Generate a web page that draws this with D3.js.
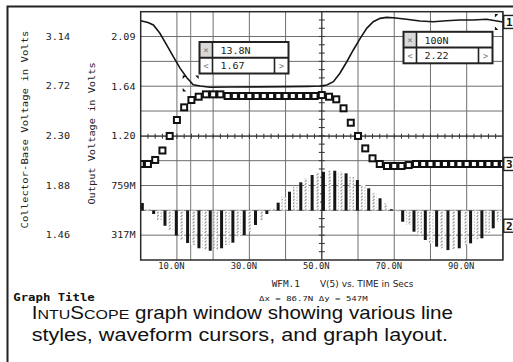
<!DOCTYPE html>
<html><head><meta charset="utf-8">
<script src="https://cdn.jsdelivr.net/npm/d3@7"></script>
<style>
html,body{margin:0;padding:0;background:#fff;}
svg{display:block;}
</style></head><body>
<svg id="chart" width="513" height="362"></svg>
<script>
// ---------------- data ----------------
const xTickValues = [10, 30, 50, 70, 90];
const xTickLabels = ["10.0N", "30.0N", "50.0N", "70.0N", "90.0N"];
const xGridValues = [10, 20, 30, 40, 50, 60, 70, 80, 90];
const outTickValues = [2.09, 1.64, 1.20, 0.759, 0.317];
const outTickLabels = ["2.09", "1.64", "1.20", "759M", "317M"];
const cbTickValues = [3.14, 2.72, 2.30, 1.88, 1.46];
const cbTickLabels = ["3.14", "2.72", "2.30", "1.88", "1.46"];

// trace 1: output voltage (solid line)
const trace1Time = [0, 2, 3.5, 5.3, 7.2, 9.0, 10.9, 12.7, 14.5, 16.4, 19.1, 25, 32, 40, 46, 49.5, 51.4, 53.2, 55.0, 56.9, 58.7, 60.6, 62.4, 64.2, 66.1, 67.9, 69.7, 73.4, 77.1, 80.8, 84.4, 88.1, 91.8, 95.5, 100];
const trace1Volts = [2.231, 2.215, 2.193, 2.119, 2.014, 1.910, 1.806, 1.725, 1.660, 1.648, 1.637, 1.640, 1.641, 1.643, 1.645, 1.648, 1.657, 1.687, 1.762, 1.865, 1.970, 2.074, 2.163, 2.222, 2.252, 2.261, 2.258, 2.244, 2.228, 2.222, 2.231, 2.237, 2.237, 2.244, 2.22];

// trace 3: collector-base voltage (square markers)
const trace3Time = [0, 2, 4, 6, 8, 10, 12, 14, 16, 18, 20, 22, 24, 26, 28, 30, 32, 34, 36, 38, 40, 42, 44, 46, 48, 50, 52, 54, 56, 58, 60, 62, 64, 66, 68, 70, 72, 74, 76, 78, 80, 82, 84, 86, 88, 90, 92, 94, 96, 98, 100];
const trace3Volts = [2.062, 2.062, 2.096, 2.176, 2.299, 2.434, 2.541, 2.603, 2.631, 2.651, 2.651, 2.651,
  2.637, 2.637, 2.637, 2.637, 2.637, 2.637, 2.637, 2.637, 2.637, 2.637, 2.637, 2.637, 2.637,
  2.645, 2.631, 2.609, 2.533, 2.411, 2.299, 2.194, 2.110, 2.062, 2.045, 2.045, 2.045, 2.053,
  2.062, 2.062, 2.062, 2.062, 2.062, 2.062, 2.062, 2.062, 2.062, 2.062, 2.062, 2.062, 2.062];

// trace 2: bar style, solid samples and hatched samples
const trace2Baseline = 0.537;
const trace2TimeA = [0.45, 3.58, 6.7, 9.83, 12.95, 16.08, 19.2, 22.33, 25.45, 28.58, 31.7, 34.83, 37.95, 41.08, 44.2, 47.33, 50.45, 53.58, 56.7, 59.83, 62.95, 66.08, 69.2, 72.33, 75.45, 78.58, 81.7, 84.83, 87.95, 91.08, 94.2, 97.33];
const trace2VoltsA = [0.604, 0.506, 0.401, 0.314, 0.247, 0.200, 0.178, 0.200, 0.250, 0.318, 0.408, 0.506, 0.607, 0.705, 0.789, 0.854, 0.883, 0.892, 0.869, 0.809, 0.735, 0.646, 0.548, 0.437, 0.348, 0.274, 0.214, 0.184, 0.200, 0.244, 0.289, 0.378];
const trace2TimeB = [2.01, 5.14, 8.26, 11.39, 14.51, 17.64, 20.76, 23.89, 27.01, 30.14, 33.26, 36.39, 39.51, 42.64, 45.76, 48.89, 52.01, 55.14, 58.26, 61.39, 64.51, 67.64, 70.76, 73.89, 77.01, 80.14, 83.26, 86.39, 89.51, 92.64, 95.76, 98.89];
const trace2VoltsB = [0.550, 0.452, 0.358, 0.274, 0.229, 0.184, 0.184, 0.229, 0.300, 0.348, 0.452, 0.555, 0.660, 0.749, 0.824, 0.878, 0.892, 0.883, 0.839, 0.765, 0.690, 0.601, 0.524, 0.408, 0.318, 0.244, 0.200, 0.191, 0.229, 0.280, 0.333, 0.437];

// cursors
const cursorTimes = [13.8, 100];
const cursorValues = [1.67, 2.22];
const cursorTimeLabels = ["13.8N", "100N"];
const cursorValueLabels = ["1.67", "2.22"];

// axis crosshair
const crossTime = 50;
const crossVolts = 1.20;

// texts
const yTitleCB = "Collector-Base Voltage in Volts";
const yTitleOut = "Output Voltage in Volts";
const xTitleA = "WFM.1";
const xTitleB = "V(5) vs. TIME in Secs";
const deltaText = "\u0394x = 86.7N \u0394y = 547M";
const graphTitle = "Graph Title";

// ---------------- layout ----------------
const svg = d3.select("#chart");
const plot = {left: 140.7, right: 502.9, top: 11.7, bottom: 260};
const gridStep = (plot.bottom - plot.top) / 10;
const x = d3.scaleLinear().domain([0, 100]).range([plot.left, plot.right]);
const yOut = d3.scaleLinear().domain([0.317, 2.09]).range([plot.top + 9 * gridStep, plot.top + gridStep]);
const yCB = d3.scaleLinear().domain([1.46, 3.14]).range([plot.top + 9 * gridStep, plot.top + gridStep]);

const MONO = "'DejaVu Sans Mono', 'Liberation Mono', monospace";
const SANS = "'DejaVu Sans', sans-serif";
const CAP = "'Liberation Sans', Arial, Helvetica, sans-serif";

function addText(parent, str, o) {
  let tr = `translate(${o.x},${o.y})`;
  if (o.rotate) tr += ` rotate(${o.rotate})`;
  tr += ` scale(${o.sx || 1},1)`;
  return parent.append("text")
    .attr("transform", tr)
    .attr("text-anchor", o.anchor || "start")
    .attr("font-family", o.family || MONO)
    .attr("font-size", o.size || 8.3)
    .attr("font-weight", o.weight || "normal")
    .attr("fill", o.fill || "#222")
    .text(str);
}

svg.append("rect").attr("width", 513).attr("height", 362).attr("fill", "#fff");

const defs = svg.append("defs");
defs.append("clipPath").attr("id", "plotClip").append("rect")
  .attr("x", plot.left).attr("y", plot.top)
  .attr("width", plot.right - plot.left).attr("height", plot.bottom - plot.top);
const pat = defs.append("pattern").attr("id", "hatch")
  .attr("patternUnits", "userSpaceOnUse").attr("width", 4).attr("height", 3.2);
pat.append("rect").attr("width", 4).attr("height", 3.2).attr("fill", "#fff");
pat.append("path").attr("d", "M0.6,2.6 L2.6,0.6").attr("stroke", "#8a8a8a").attr("stroke-width", 1);

// plot background
svg.append("rect").attr("x", plot.left).attr("y", plot.top)
  .attr("width", plot.right - plot.left).attr("height", plot.bottom - plot.top).attr("fill", "#fff");

// grid
const grid = svg.append("g").attr("stroke", "#6e6e6e").attr("stroke-width", 1);
grid.selectAll("line.v").data(xGridValues).join("line")
  .attr("x1", d => x(d)).attr("x2", d => x(d)).attr("y1", plot.top).attr("y2", plot.bottom);
grid.selectAll("line.h").data(d3.range(1, 10)).join("line")
  .attr("x1", plot.left).attr("x2", plot.right)
  .attr("y1", d => plot.top + d * gridStep).attr("y2", d => plot.top + d * gridStep);

// cursor vertical lines
svg.append("g").selectAll("line").data(cursorTimes).join("line")
  .attr("x1", d => x(d)).attr("x2", d => x(d)).attr("y1", plot.top).attr("y2", plot.bottom)
  .attr("stroke", "#777").attr("stroke-width", 1);

// ticked crosshair
const cross = svg.append("g").attr("stroke", "#333").attr("stroke-width", 1).attr("clip-path", "url(#plotClip)");
cross.append("line").attr("x1", plot.left).attr("x2", plot.right).attr("y1", yOut(crossVolts)).attr("y2", yOut(crossVolts));
cross.append("line").attr("x1", x(crossTime)).attr("x2", x(crossTime)).attr("y1", plot.top).attr("y2", plot.bottom);
cross.selectAll("line.th").data(d3.range(2, 100, 2)).join("line")
  .attr("x1", d => x(d)).attr("x2", d => x(d))
  .attr("y1", yOut(crossVolts) - 2.5).attr("y2", yOut(crossVolts) + 2.5);
cross.selectAll("line.tv").data(d3.range(1, 30)).join("line")
  .attr("x1", x(crossTime) - 3).attr("x2", x(crossTime) + 3)
  .attr("y1", d => plot.top + d * gridStep / 3).attr("y2", d => plot.top + d * gridStep / 3);

// bars (trace 2)
const bars = svg.append("g").attr("clip-path", "url(#plotClip)");
const yb = yOut(trace2Baseline);
bars.selectAll("rect.b").data(trace2TimeB.map((t, i) => [t, trace2VoltsB[i]])).join("rect")
  .attr("x", d => x(d[0]) - 2.3).attr("width", 4.6)
  .attr("y", d => Math.min(yb, yOut(d[1]))).attr("height", d => Math.abs(yOut(d[1]) - yb))
  .attr("fill", "url(#hatch)");
bars.selectAll("rect.a").data(trace2TimeA.map((t, i) => [t, trace2VoltsA[i]])).join("rect")
  .attr("x", d => x(d[0]) - 1.5).attr("width", 3)
  .attr("y", d => Math.min(yb, yOut(d[1]))).attr("height", d => Math.abs(yOut(d[1]) - yb))
  .attr("fill", "#151515");

// trace 1 line
const line1 = d3.line().x(d => x(d[0])).y(d => yOut(d[1]));
svg.append("path").attr("clip-path", "url(#plotClip)")
  .datum(trace1Time.map((t, i) => [t, trace1Volts[i]]))
  .attr("d", line1).attr("fill", "none").attr("stroke", "#161616").attr("stroke-width", 1.6);

// trace 3 squares
svg.append("g").attr("clip-path", "url(#plotClip)")
  .selectAll("rect").data(trace3Time.map((t, i) => [t, trace3Volts[i]])).join("rect")
  .attr("x", d => x(d[0]) - 3).attr("y", d => yCB(d[1]) - 3)
  .attr("width", 6).attr("height", 6)
  .attr("fill", "#fff").attr("stroke", "#111").attr("stroke-width", 2);

// cursor markers (corner ticks)
const mk = svg.append("g").attr("clip-path", "url(#plotClip)").attr("fill", "#111");
cursorTimes.forEach((t, i) => {
  const cx = x(t), cy = yOut(cursorValues[i]);
  [[1, -1], [-1, 1], [-1, -1]].forEach(([sx, sy]) => {
    const px = cx + sx * 8, py = cy + sy * 8;
    mk.append("path").attr("d", `M${px},${py} L${px - sx * 3.5},${py} L${px},${py - sy * 3.5} Z`);
  });
});

// plot frame
svg.append("rect").attr("x", plot.left).attr("y", plot.top)
  .attr("width", plot.right - plot.left).attr("height", plot.bottom - plot.top)
  .attr("fill", "none").attr("stroke", "#2a2a2a").attr("stroke-width", 1.5);

// trace labels at right edge
const lastOf = a => a[a.length - 1];
const traceLabels = [
  {name: "1", y: yOut(lastOf(trace1Volts))},
  {name: "3", y: yCB(lastOf(trace3Volts))},
  {name: "2", y: yOut(lastOf(trace2VoltsB)) + 4}
];
traceLabels.forEach(l => {
  svg.append("rect").attr("x", plot.right + 0.8).attr("y", l.y - 6.5).attr("width", 14).attr("height", 13)
    .attr("fill", "#fff").attr("stroke", "#222").attr("stroke-width", 1.4);
  addText(svg, l.name, {x: plot.right + 3.2, y: l.y + 4, size: 11, weight: "bold", fill: "#111"});
});

// cursor readout boxes
const boxPos = [{x: 199.5, y: 42}, {x: 403.5, y: 31.8}];
const bw = 89, bh = 31.5, cellW = 13, rightCell = 14;
boxPos.forEach((p, i) => {
  const g = svg.append("g").attr("transform", `translate(${p.x},${p.y})`);
  g.append("rect").attr("width", bw).attr("height", bh).attr("fill", "#fff");
  g.append("rect").attr("width", cellW).attr("height", bh / 2).attr("fill", "#d9d9d9");
  g.append("line").attr("x1", 0).attr("x2", bw).attr("y1", bh / 2).attr("y2", bh / 2).attr("stroke", "#222").attr("stroke-width", 2);
  g.append("line").attr("x1", cellW).attr("x2", cellW).attr("y1", 0).attr("y2", bh).attr("stroke", "#222").attr("stroke-width", 1.6);
  g.append("line").attr("x1", bw - rightCell).attr("x2", bw - rightCell).attr("y1", bh / 2).attr("y2", bh).attr("stroke", "#222").attr("stroke-width", 1.6);
  g.append("rect").attr("width", bw).attr("height", bh).attr("fill", "none").attr("stroke", "#222").attr("stroke-width", 2);
  addText(g, "\u00d7", {x: cellW / 2, y: 11.2, anchor: "middle", size: 9, fill: "#777"});
  addText(g, "<", {x: cellW / 2, y: bh / 2 + 11, anchor: "middle", size: 8.5, fill: "#777"});
  addText(g, ">", {x: bw - rightCell / 2, y: bh / 2 + 11, anchor: "middle", size: 8.5, fill: "#777"});
  addText(g, cursorTimeLabels[i], {x: 21, y: 12, size: 8.5, sx: 1.18});
  addText(g, cursorValueLabels[i], {x: 21, y: bh / 2 + 11.5, size: 8.5, sx: 1.18});
});

// y tick labels
cbTickValues.forEach((v, i) => addText(svg, cbTickLabels[i], {x: 70, y: yCB(v) + 3, anchor: "end", size: 8.3, sx: 1.22}));
outTickValues.forEach((v, i) => addText(svg, outTickLabels[i], {x: 135.5, y: yOut(v) + 3, anchor: "end", size: 8.3, sx: 1.22}));

// y titles
addText(svg, yTitleCB, {x: 27.5, y: 129.5, rotate: -90, anchor: "middle", size: 8.3, sx: 1.28});
addText(svg, yTitleOut, {x: 95, y: 133.5, rotate: -90, anchor: "middle", size: 8.3, sx: 1.24});

// x tick labels
xTickValues.forEach((v, i) => addText(svg, xTickLabels[i], {x: x(v) - 5.5, y: 269.2, anchor: "middle", size: 8.3, sx: 1.06}));

// x titles
addText(svg, xTitleA, {x: 271.7, y: 286.5, size: 8.3, sx: 1.13});
addText(svg, xTitleB, {x: 320, y: 286.5, family: SANS, size: 8.3, sx: 1.08});
addText(svg, deltaText, {x: 313.3, y: 301.3, anchor: "middle", size: 7.4, sx: 1.22});

// graph title
addText(svg, graphTitle, {x: 13.3, y: 301.3, size: 11, weight: "bold", sx: 1.12, fill: "#111"});

// outer window frame
svg.append("path").attr("d", "M7.5,362 V6.5 H513").attr("fill", "none").attr("stroke", "#222").attr("stroke-width", 2);

// caption
function fitCaption(t, target) {
  const w = t.node().getComputedTextLength();
  const tr = t.attr("transform").replace(/scale\([^)]*\)/, `scale(${target / w},1)`);
  t.attr("transform", tr);
}
const cap1 = svg.append("text").attr("transform", "translate(31.7,318.5) scale(1,1)")
  .attr("font-family", CAP).attr("font-size", 17.5).attr("fill", "#111");
cap1.append("tspan").text("I");
cap1.append("tspan").attr("font-size", 13.6).text("NTU");
cap1.append("tspan").text("S");
cap1.append("tspan").attr("font-size", 13.6).text("COPE");
cap1.append("tspan").text(" graph window showing various line");
fitCaption(cap1, 421.6);
const cap2 = svg.append("text").attr("transform", "translate(31.7,340.7) scale(1,1)")
  .attr("font-family", CAP).attr("font-size", 17.5).attr("fill", "#111")
  .text("styles, waveform cursors, and graph layout.");
fitCaption(cap2, 416.6);
</script>
</body></html>
